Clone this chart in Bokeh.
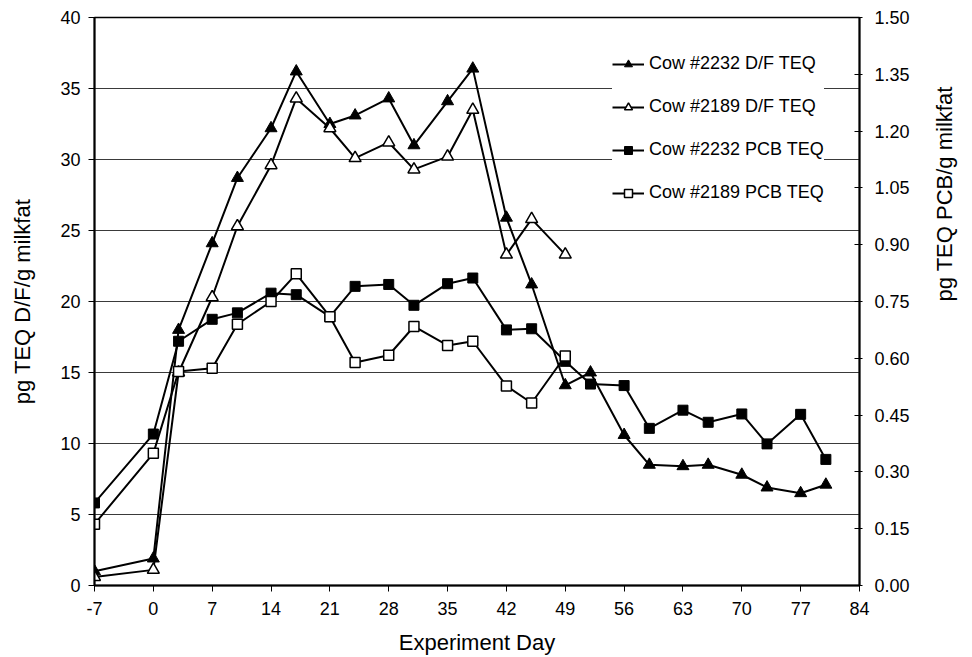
from math import pi
from bokeh.plotting import figure
from bokeh.models import (Range1d, LinearAxis, FixedTicker, NumeralTickFormatter, Legend)
from bokeh.embed import file_html
from bokeh.resources import INLINE

# ---- data ----
days_2232 = [-7, 0, 3, 7, 10, 14, 17, 21, 24, 28, 31, 35, 38, 42, 45, 49, 52, 56, 59, 63, 66, 70, 73, 77, 80]
days_2189 = [-7, 0, 3, 7, 10, 14, 17, 21, 24, 28, 31, 35, 38, 42, 45, 49]
df_2232 = [1.0, 1.9, 18.0, 24.1, 28.7, 32.2, 36.2, 32.5, 33.1, 34.3, 31.0, 34.1, 36.4,
           25.9, 21.2, 14.1, 15.0, 10.6, 8.5, 8.4, 8.5, 7.8, 6.9, 6.5, 7.1]
df_2189 = [0.6, 1.1, 15.0, 20.3, 25.3, 29.6, 34.3, 32.2, 30.1, 31.2, 29.3, 30.2, 33.5,
           23.3, 25.8, 23.3]
pcb_2232 = [0.218, 0.400, 0.645, 0.703, 0.720, 0.772, 0.768, 0.710, 0.790, 0.795, 0.740,
            0.797, 0.812, 0.675, 0.678, 0.592, 0.532, 0.528, 0.415, 0.463, 0.431, 0.453,
            0.374, 0.452, 0.333]
pcb_2189 = [0.162, 0.349, 0.565, 0.574, 0.690, 0.750, 0.823, 0.710, 0.589, 0.608, 0.684,
            0.634, 0.645, 0.527, 0.482, 0.606]
x_ticks = [-7, 0, 7, 14, 21, 28, 35, 42, 49, 56, 63, 70, 77, 84]
left_ticks = [0, 5, 10, 15, 20, 25, 30, 35, 40]
right_ticks = [0.0, 0.15, 0.30, 0.45, 0.60, 0.75, 0.90, 1.05, 1.20, 1.35, 1.50]
series_labels = ["Cow #2232 D/F TEQ", "Cow #2189 D/F TEQ", "Cow #2232 PCB TEQ", "Cow #2189 PCB TEQ"]

FONT = "Liberation Sans"

p = figure(width=972, height=657, x_range=Range1d(-7, 84), y_range=Range1d(0, 40),
           output_backend="svg", toolbar_location=None,
           min_border_left=94, min_border_right=113, min_border_top=17, min_border_bottom=72)
p.extra_y_ranges = {"pcb": Range1d(0, 1.5)}

p.outline_line_color = "black"
p.outline_line_width = 1.5
p.xgrid.visible = False
p.ygrid.ticker = FixedTicker(ticks=left_ticks)
p.ygrid.grid_line_color = "#3a3a3a"
p.ygrid.grid_line_width = 1

# axes
xa = p.xaxis[0]
xa.ticker = FixedTicker(ticks=x_ticks)
xa.major_label_overrides = {-7: "-7"}
xa.axis_label = "Experiment Day"
ya = p.yaxis[0]
ya.ticker = FixedTicker(ticks=left_ticks)
ya.axis_label = "pg TEQ D/F/g milkfat"

ra = LinearAxis(y_range_name="pcb", ticker=FixedTicker(ticks=right_ticks),
                formatter=NumeralTickFormatter(format="0.00"))
ra.axis_label = "pg TEQ PCB/g milkfat"
p.add_layout(ra, "right")

for ax in (xa, ya, ra):
    ax.axis_line_color = "black"
    ax.axis_line_width = 2
    ax.major_tick_line_color = "black"
    ax.major_tick_line_width = 1
    ax.minor_tick_line_color = None
    ax.major_label_text_font = FONT
    ax.major_label_text_font_size = "18px"
    ax.major_label_text_color = "black"
    ax.axis_label_text_font = FONT
    ax.axis_label_text_font_size = "22px"
    ax.axis_label_text_font_style = "normal"
    ax.axis_label_text_color = "black"

xa.major_tick_out = 6
xa.major_tick_in = 0
xa.major_label_standoff = 10
xa.axis_label_standoff = 12
ya.major_tick_out = 6
ya.major_tick_in = 0
ya.major_label_standoff = 8
ya.axis_label_standoff = 22
ra.major_tick_out = 3
ra.major_tick_in = 5
ra.major_label_standoff = 12
ra.axis_label_standoff = 32
try:
    ra.axis_label_orientation = pi / 2   # read bottom-to-top like the left title
except Exception:
    pass

# series
l1 = p.line(days_2232, df_2232, line_color="black", line_width=2)
s1 = p.scatter(days_2232, df_2232, marker="triangle", size=12, fill_color="black",
               line_color="black", line_width=1)
l2 = p.line(days_2189, df_2189, line_color="black", line_width=2)
s2 = p.scatter(days_2189, df_2189, marker="triangle", size=12, fill_color="white",
               line_color="black", line_width=1.5)
l3 = p.line(days_2232, pcb_2232, line_color="black", line_width=2, y_range_name="pcb")
s3 = p.scatter(days_2232, pcb_2232, marker="square", size=10, fill_color="black",
               line_color="black", line_width=1, y_range_name="pcb")
l4 = p.line(days_2189, pcb_2189, line_color="black", line_width=2, y_range_name="pcb")
s4 = p.scatter(days_2189, pcb_2189, marker="square", size=10, fill_color="white",
               line_color="black", line_width=1.5, y_range_name="pcb")

legend = Legend(items=[(series_labels[0], [l1, s1]), (series_labels[1], [l2, s2]),
                       (series_labels[2], [l3, s3]), (series_labels[3], [l4, s4])],
                location=(518, 382))
legend.background_fill_color = "white"
legend.background_fill_alpha = 1
legend.border_line_color = None
legend.label_text_font = FONT
legend.label_text_font_size = "18px"
legend.label_text_color = "black"
legend.glyph_width = 32
legend.glyph_height = 20
legend.label_height = 20
legend.label_standoff = 5
legend.spacing = 22
legend.padding = 20
legend.margin = 0
p.add_layout(legend, "center")

open("out.html", "w").write(file_html(p, INLINE))
